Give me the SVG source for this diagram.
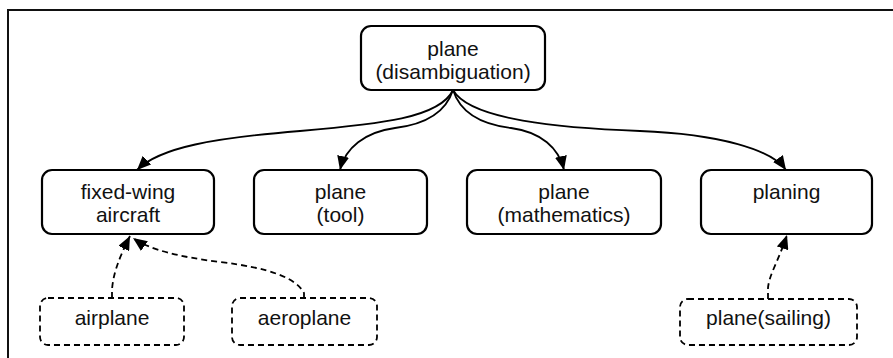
<svg xmlns="http://www.w3.org/2000/svg" width="893" height="358" viewBox="0 0 893 358">
<style>
  .node rect { fill: #ffffff; stroke: #000000; stroke-width: 2.2; }
  .alias rect { fill: #ffffff; stroke: #000000; stroke-width: 1.8; stroke-dasharray: 6,4; }
  text { font-family: "Liberation Sans", Arial, sans-serif; font-size: 21px; fill: #111111; text-anchor: middle; }
  .edge { fill: none; stroke: #000000; stroke-width: 1.8; }
  .dashed { stroke-dasharray: 6,4; }
</style>
<defs>
  <marker id="arrow" viewBox="0 0 14 12" refX="14" refY="6" markerWidth="14" markerHeight="12" markerUnits="userSpaceOnUse" orient="auto">
    <path d="M0,0 L14,6 L0,12 Z" fill="#000000" stroke="none"/>
  </marker>
</defs>
<rect x="8" y="10" width="900" height="400" fill="none" stroke="#111111" stroke-width="2"/>

<g id="edges">
  <path class="edge" d="M453,90 C440,118 380,124 300,131 C215,138 160,147 137,170" marker-end="url(#arrow)"/>
  <path class="edge" d="M453,90 C445,115 420,125 395,128 C365,132 345,148 340,170" marker-end="url(#arrow)"/>
  <path class="edge" d="M453,90 C461,115 486,125 511,128 C541,132 559,148 564,170" marker-end="url(#arrow)"/>
  <path class="edge" d="M453,90 C470,120 560,128 640,131 C720,134 772,150 786,170" marker-end="url(#arrow)"/>
  <path class="edge dashed" d="M112,298 L112,290 C113,275 118,260 130,236" marker-end="url(#arrow)"/>
  <path class="edge dashed" d="M304,298 L304,293 C296,278 270,268 220,262 C180,257 150,250 133,238" marker-end="url(#arrow)"/>
  <path class="edge dashed" d="M768,299 L768,288 C769,275 778,262 787,235" marker-end="url(#arrow)"/>
</g>

<g id="plane_disambiguation" class="node">
  <rect x="361" y="26" width="184" height="64" rx="10"/>
  <text x="453" y="56">plane</text>
  <text x="453" y="79">(disambiguation)</text>
</g>
<g id="fixed_wing_aircraft" class="node">
  <rect x="42" y="170" width="172" height="64" rx="10"/>
  <text x="128" y="199">fixed-wing</text>
  <text x="128" y="222">aircraft</text>
</g>
<g id="plane_tool" class="node">
  <rect x="254" y="170" width="173" height="64" rx="10"/>
  <text x="340.5" y="199">plane</text>
  <text x="340.5" y="222">(tool)</text>
</g>
<g id="plane_mathematics" class="node">
  <rect x="467" y="170" width="194" height="64" rx="10"/>
  <text x="564" y="199">plane</text>
  <text x="564" y="222">(mathematics)</text>
</g>
<g id="planing" class="node">
  <rect x="701" y="170" width="171" height="64" rx="10"/>
  <text x="786.5" y="199">planing</text>
</g>
<g id="airplane" class="alias">
  <rect x="40" y="298" width="144" height="47" rx="8"/>
  <text x="112" y="325">airplane</text>
</g>
<g id="aeroplane" class="alias">
  <rect x="232" y="298" width="145" height="47" rx="8"/>
  <text x="304.5" y="325">aeroplane</text>
</g>
<g id="plane_sailing" class="alias">
  <rect x="680" y="299" width="177" height="46" rx="8"/>
  <text x="768.5" y="325">plane(sailing)</text>
</g>
</svg>
